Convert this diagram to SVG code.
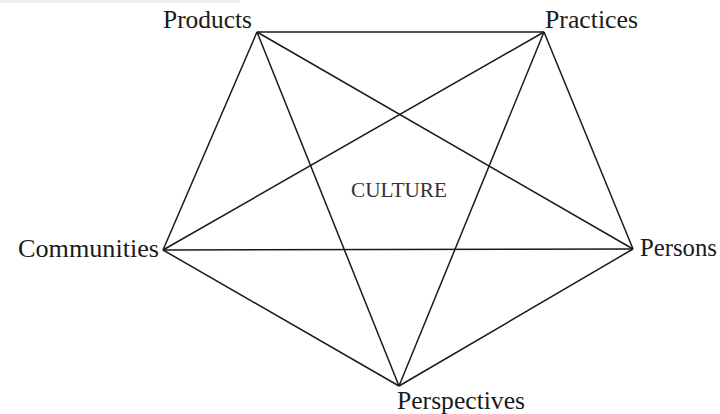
<svg xmlns="http://www.w3.org/2000/svg" width="720" height="414" viewBox="0 0 720 414">
<style>
.lbl{font-family:"Liberation Serif","Times New Roman",serif;font-size:25px;fill:#1a1a1a}
.ctr{font-family:"Liberation Serif","Times New Roman",serif;font-size:20px;fill:#333}
line{stroke:#1a1a1a;stroke-width:1.5}
</style>
<rect x="0" y="0" width="240" height="3" fill="#f0f0f0"/>
<g id="connectors">
<line x1="257" y1="32" x2="544" y2="32"/>
<line x1="257" y1="32" x2="163" y2="250"/>
<line x1="257" y1="32" x2="633" y2="249"/>
<line x1="257" y1="32" x2="399" y2="386"/>
<line x1="544" y1="32" x2="163" y2="250"/>
<line x1="544" y1="32" x2="633" y2="249"/>
<line x1="544" y1="32" x2="399" y2="386"/>
<line x1="163" y1="250" x2="633" y2="249"/>
<line x1="163" y1="250" x2="399" y2="386"/>
<line x1="633" y1="249" x2="399" y2="386"/>
</g>
<g id="products"><text class="lbl" x="163" y="28" textLength="89" lengthAdjust="spacingAndGlyphs">Products</text></g>
<g id="practices"><text class="lbl" x="545" y="28" textLength="93" lengthAdjust="spacingAndGlyphs">Practices</text></g>
<g id="communities"><text class="lbl" x="18" y="257" textLength="141" lengthAdjust="spacingAndGlyphs">Communities</text></g>
<g id="persons"><text class="lbl" x="640" y="256" textLength="77" lengthAdjust="spacingAndGlyphs">Persons</text></g>
<g id="perspectives"><text class="lbl" x="397" y="409" textLength="128" lengthAdjust="spacingAndGlyphs">Perspectives</text></g>
<g id="culture"><text class="ctr" x="351" y="197" textLength="96" lengthAdjust="spacingAndGlyphs">CULTURE</text></g>
</svg>
